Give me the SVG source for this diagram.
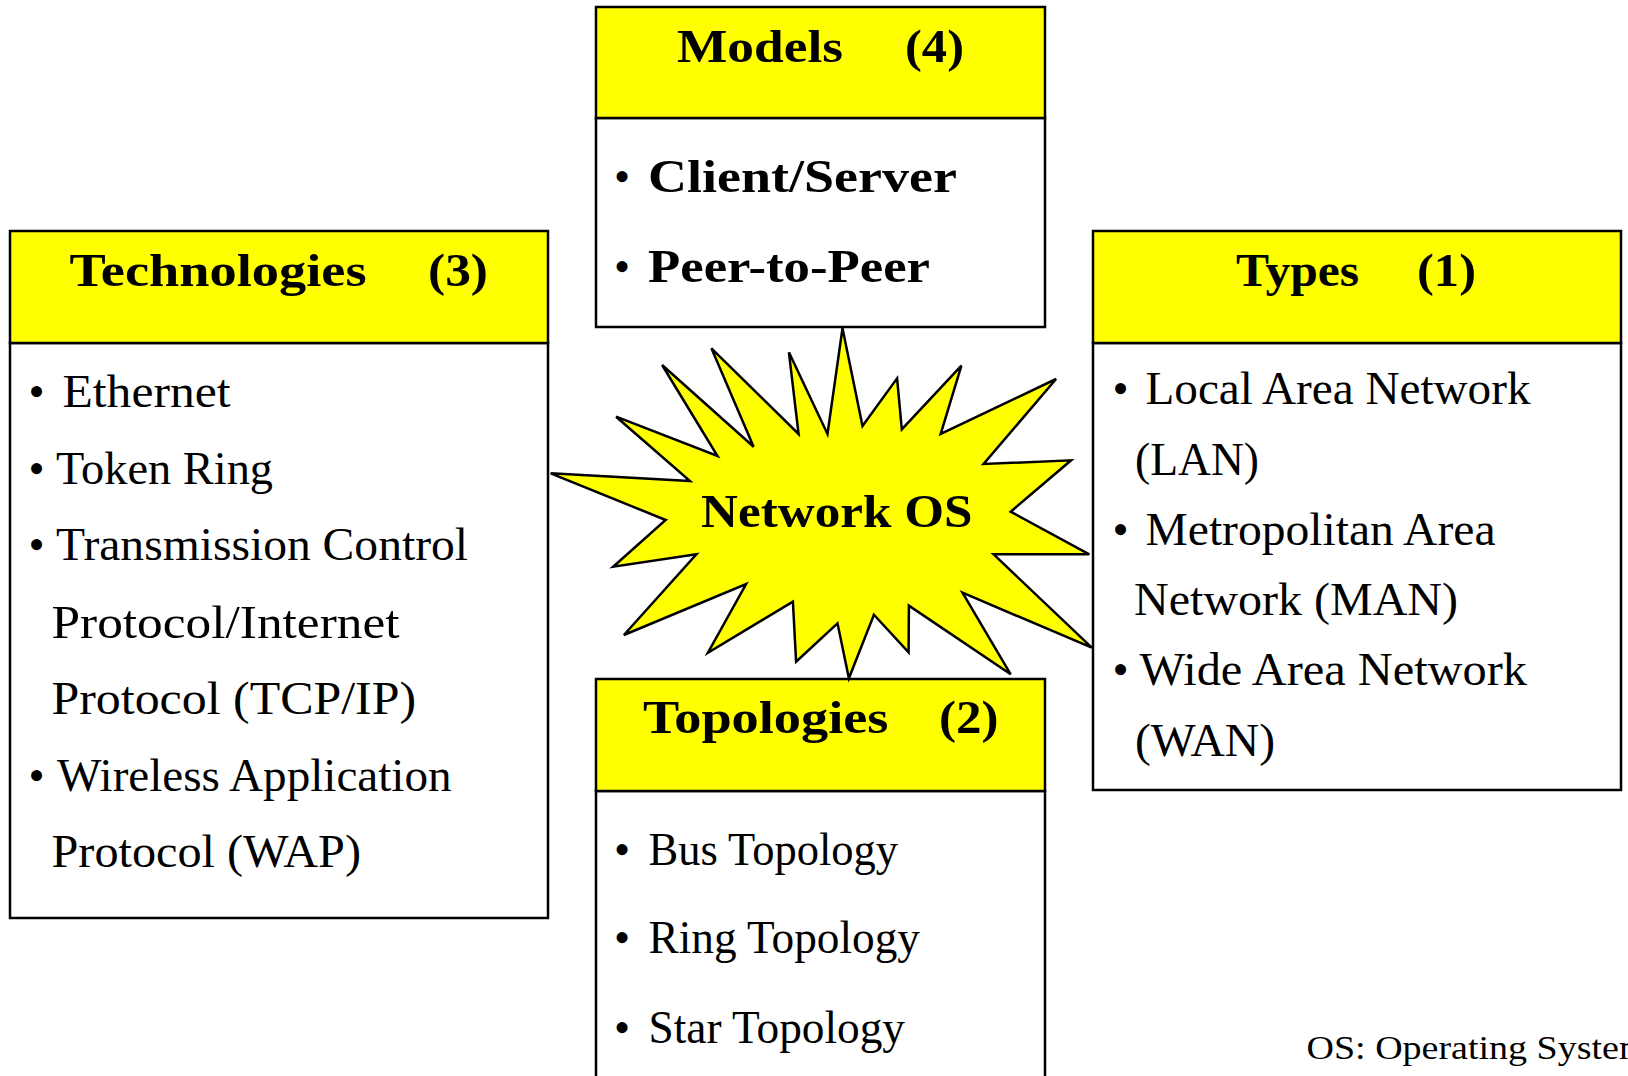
<svg xmlns="http://www.w3.org/2000/svg" width="1628" height="1076" viewBox="0 0 1628 1076">
<style>
.hdr{fill:#ffff00;stroke:#000;stroke-width:2.5}
.body{fill:#fff;stroke:#000;stroke-width:2.5}
.h{font-family:"Liberation Serif","DejaVu Serif",serif;font-weight:bold;font-size:46px;fill:#000}
.b{font-family:"Liberation Serif","DejaVu Serif",serif;font-weight:bold;font-size:46px;fill:#000}
.t{font-family:"Liberation Serif","DejaVu Serif",serif;font-size:46px;fill:#000}
.bul{font-family:"Liberation Serif","DejaVu Serif",serif;font-size:46px;fill:#000}
.star{fill:#ffff00;stroke:#000;stroke-width:2.5;stroke-linejoin:miter}
.note{font-family:"Liberation Serif","DejaVu Serif",serif;font-size:33px;fill:#000}
</style>
<rect width="1628" height="1076" fill="#fff"/>
<g id="connectors"></g>
<g id="models">
<rect class="body" x="596" y="118" width="449" height="209"/>
<rect class="hdr" x="596" y="7" width="449" height="111"/>
<text class="h" x="677" y="61.5" textLength="166" lengthAdjust="spacingAndGlyphs">Models</text>
<text class="h" x="905" y="61.5" textLength="59" lengthAdjust="spacingAndGlyphs">(4)</text>
<text class="bul" x="614" y="192">•</text>
<text class="b" x="648" y="192" textLength="309" lengthAdjust="spacingAndGlyphs">Client/Server</text>
<text class="bul" x="614" y="282">•</text>
<text class="b" x="648" y="282" textLength="282" lengthAdjust="spacingAndGlyphs">Peer-to-Peer</text>
</g>
<g id="technologies">
<rect class="body" x="10" y="343" width="538" height="575"/>
<rect class="hdr" x="10" y="231" width="538" height="112"/>
<text class="h" x="69.6" y="285.5" textLength="297" lengthAdjust="spacingAndGlyphs">Technologies</text>
<text class="h" x="428" y="285.5" textLength="60" lengthAdjust="spacingAndGlyphs">(3)</text>
<text class="bul" x="28.5" y="407">•</text>
<text class="t" x="62.5" y="407" textLength="168" lengthAdjust="spacingAndGlyphs">Ethernet</text>
<text class="bul" x="28.5" y="483.5">•</text>
<text class="t" x="56" y="483.5" textLength="217" lengthAdjust="spacingAndGlyphs">Token Ring</text>
<text class="bul" x="28.5" y="560">•</text>
<text class="t" x="56" y="560" textLength="412" lengthAdjust="spacingAndGlyphs">Transmission Control</text>
<text class="t" x="51.5" y="638" textLength="348" lengthAdjust="spacingAndGlyphs">Protocol/Internet</text>
<text class="t" x="51.5" y="714" textLength="364.5" lengthAdjust="spacingAndGlyphs">Protocol (TCP/IP)</text>
<text class="bul" x="28.5" y="791">•</text>
<text class="t" x="57" y="791" textLength="394.5" lengthAdjust="spacingAndGlyphs">Wireless Application</text>
<text class="t" x="51.5" y="867" textLength="309.5" lengthAdjust="spacingAndGlyphs">Protocol (WAP)</text>
</g>
<g id="types">
<rect class="body" x="1093" y="343" width="528" height="447"/>
<rect class="hdr" x="1093" y="231" width="528" height="112"/>
<text class="h" x="1236" y="285.5" textLength="123" lengthAdjust="spacingAndGlyphs">Types</text>
<text class="h" x="1417" y="285.5" textLength="59" lengthAdjust="spacingAndGlyphs">(1)</text>
<text class="bul" x="1112.5" y="403.5">•</text>
<text class="t" x="1145.5" y="403.5" textLength="385" lengthAdjust="spacingAndGlyphs">Local Area Network</text>
<text class="t" x="1135" y="475" textLength="124" lengthAdjust="spacingAndGlyphs">(LAN)</text>
<text class="bul" x="1112.5" y="545">•</text>
<text class="t" x="1145.5" y="545" textLength="350" lengthAdjust="spacingAndGlyphs">Metropolitan Area</text>
<text class="t" x="1134" y="614.5" textLength="324" lengthAdjust="spacingAndGlyphs">Network (MAN)</text>
<text class="bul" x="1112.5" y="685">•</text>
<text class="t" x="1139.5" y="685" textLength="387.5" lengthAdjust="spacingAndGlyphs">Wide Area Network</text>
<text class="t" x="1135" y="756" textLength="140" lengthAdjust="spacingAndGlyphs">(WAN)</text>
</g>
<g id="topologies">
<rect class="body" x="596" y="791" width="449" height="310"/>
<rect class="hdr" x="596" y="679" width="449" height="112"/>
<text class="h" x="643" y="733" textLength="245.5" lengthAdjust="spacingAndGlyphs">Topologies</text>
<text class="h" x="939" y="733" textLength="59.5" lengthAdjust="spacingAndGlyphs">(2)</text>
<text class="bul" x="614" y="864.5">•</text>
<text class="t" x="648.5" y="864.5" textLength="249.5" lengthAdjust="spacingAndGlyphs">Bus Topology</text>
<text class="bul" x="614" y="953">•</text>
<text class="t" x="648.5" y="953" textLength="271.5" lengthAdjust="spacingAndGlyphs">Ring Topology</text>
<text class="bul" x="614" y="1042.5">•</text>
<text class="t" x="648.5" y="1042.5" textLength="256.5" lengthAdjust="spacingAndGlyphs">Star Topology</text>
</g>
<g id="network-os">
<polygon class="star" points="842.5,328.3 862.5,426 897.1,378.3 901.8,429.3 961.4,365.7 940.7,434 1056.1,379 983.6,464 1071.1,460.3 1010.7,511.7 1089.3,554.3 993.6,554.3 1091.8,647.7 962.5,592.7 1010.7,674.3 908.9,605.7 908.6,652.3 873.9,614.7 848.9,678.3 837.5,623.3 796.1,661.7 792.9,601.7 707.9,652.7 746.1,584 623.9,635 696.4,554.3 613.2,566.7 665.7,520 550.7,473.3 690,481 616.1,416.7 717.5,456 662.1,365 753.6,446.7 711.4,348.3 798.6,434 788.9,352.3 827.5,434"/>
<text class="b" x="701" y="527" textLength="271.5" lengthAdjust="spacingAndGlyphs">Network OS</text>
</g>
<g id="footnote">
<text class="note" x="1306.5" y="1059" textLength="342" lengthAdjust="spacingAndGlyphs">OS: Operating System</text>
</g>
</svg>
